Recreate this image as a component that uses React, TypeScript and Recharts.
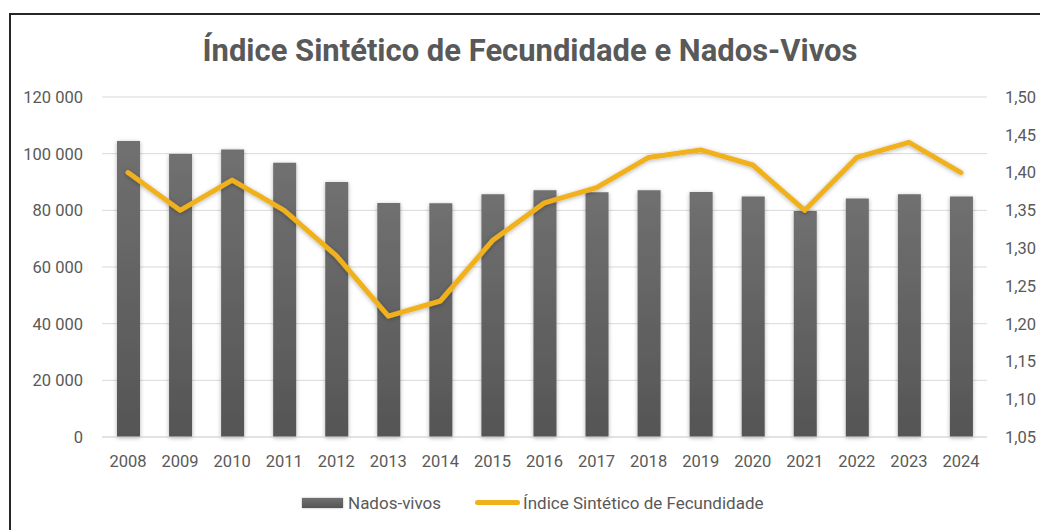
import React from "react"
import { ComposedChart, Bar, Line, XAxis, YAxis, CartesianGrid, Legend } from "recharts"

const years = ["2008", "2009", "2010", "2011", "2012", "2013", "2014", "2015", "2016", "2017", "2018", "2019", "2020", "2021", "2022", "2023", "2024"]
const nadosVivos = [104500, 99900, 101500, 96800, 90000, 82600, 82500, 85700, 87100, 86400, 87100, 86500, 84900, 79800, 84200, 85700, 84900]
const isf = [1.4, 1.35, 1.39, 1.35, 1.29, 1.21, 1.23, 1.31, 1.36, 1.38, 1.42, 1.43, 1.41, 1.35, 1.42, 1.44, 1.4]
const leftTicks = [0, 20000, 40000, 60000, 80000, 100000, 120000]
const rightTicks = [1.05, 1.1, 1.15, 1.2, 1.25, 1.3, 1.35, 1.4, 1.45, 1.5]

const TITLE = "Índice Sintético de Fecundidade e Nados-Vivos"
const BAR_NAME = "Nados-vivos"
const LINE_NAME = "Índice Sintético de Fecundidade"

const FONT = "Roboto, 'Open Sans', sans-serif"
const TEXT_COLOR = "#595959"
const LINE_COLOR = "#F0B11B"

const data = years.map((year, i) => ({ year, nados: nadosVivos[i], isf: isf[i] }))

const formatThousands = (v: number) => String(v).replace(/\B(?=(\d{3})+(?!\d))/g, " ")
const formatIsf = (v: number) => v.toFixed(2).replace(".", ",")

const tickStyle = { fill: TEXT_COLOR, fontSize: 16.5, fontFamily: FONT }

// eslint-disable-next-line @typescript-eslint/no-explicit-any
const renderLegend = (props: any) => {
  const payload = props.payload || []
  return (
    <div
      style={{
        display: "flex",
        alignItems: "center",
        height: 25,
        paddingLeft: 302,
        fontFamily: FONT,
        fontSize: 17,
        color: TEXT_COLOR,
      }}
    >
      {/* eslint-disable-next-line @typescript-eslint/no-explicit-any */}
      {payload.map((entry: any, index: number) => (
        <span key={`legend-${index}`} style={{ display: "flex", alignItems: "center", marginLeft: index === 0 ? 0 : 34 }}>
          {entry.type === "line" ? (
            <span style={{ width: 45, height: 5, borderRadius: 3, background: LINE_COLOR, marginRight: 3 }} />
          ) : (
            <span
              style={{
                width: 41,
                height: 10,
                background: "linear-gradient(#707070, #555555)",
                boxShadow: "0 0 2px rgba(0,0,0,0.35)",
                marginRight: 5,
              }}
            />
          )}
          <span>{entry.value}</span>
        </span>
      ))}
    </div>
  )
}

export default function App() {
  return (
    <div style={{ position: "absolute", left: 0, top: 0, width: 1040, height: 530, overflow: "hidden", background: "#fff" }}>
      <div
        style={{
          position: "absolute",
          left: 9,
          top: 13,
          width: 1100,
          height: 600,
          borderTop: "2px solid #262626",
          borderLeft: "2px solid #262626",
        }}
      />
      <div style={{ position: "absolute", left: 0, top: 0 }}>
        <ComposedChart width={1040} height={530} data={data} margin={{ top: 97, right: 0, bottom: 15, left: 0 }}>
          <defs>
            <linearGradient id="barGrad" x1="0" y1="0" x2="0" y2="1">
              <stop offset="0" stopColor="#707070" />
              <stop offset="1" stopColor="#555555" />
            </linearGradient>
            <filter id="softShadow" x="-50%" y="-20%" width="200%" height="140%">
              <feDropShadow dx="0" dy="1" stdDeviation="2" floodColor="#000" floodOpacity="0.3" />
            </filter>
          </defs>
          {/* condensed bold title, squeezed to the width of the original */}
          <text
            x={530}
            y={61}
            textAnchor="middle"
            fill={TEXT_COLOR}
            fontFamily={FONT}
            fontWeight="bold"
            fontSize={32}
            textLength={655}
            lengthAdjust="spacingAndGlyphs"
          >
            {TITLE}
          </text>
          <CartesianGrid yAxisId="left" vertical={false} stroke="#d9d9d9" />
          <XAxis
            dataKey="year"
            height={53}
            tickLine={false}
            tickMargin={12}
            axisLine={{ stroke: "#d9d9d9" }}
            tick={tickStyle}
            interval={0}
          />
          <YAxis
            yAxisId="left"
            width={102}
            domain={[0, 120000]}
            ticks={leftTicks}
            tickFormatter={formatThousands}
            axisLine={false}
            tickLine={false}
            tickMargin={13}
            tick={tickStyle}
          />
          <YAxis
            yAxisId="right"
            orientation="right"
            width={53}
            domain={[1.05, 1.5]}
            ticks={rightTicks}
            tickFormatter={formatIsf}
            axisLine={false}
            tickLine={false}
            tickMargin={12}
            tick={{ ...tickStyle, textAnchor: "start" }}
          />
          <Legend verticalAlign="bottom" content={renderLegend} />
          <Bar
            yAxisId="left"
            dataKey="nados"
            name={BAR_NAME}
            fill="url(#barGrad)"
            barSize={23}
            filter="url(#softShadow)"
            isAnimationActive={false}
          />
          <Line
            yAxisId="right"
            dataKey="isf"
            name={LINE_NAME}
            type="linear"
            stroke={LINE_COLOR}
            strokeWidth={5}
            strokeLinecap="round"
            strokeLinejoin="round"
            dot={false}
            activeDot={false}
            filter="url(#softShadow)"
            isAnimationActive={false}
          />
        </ComposedChart>
      </div>
    </div>
  )
}
